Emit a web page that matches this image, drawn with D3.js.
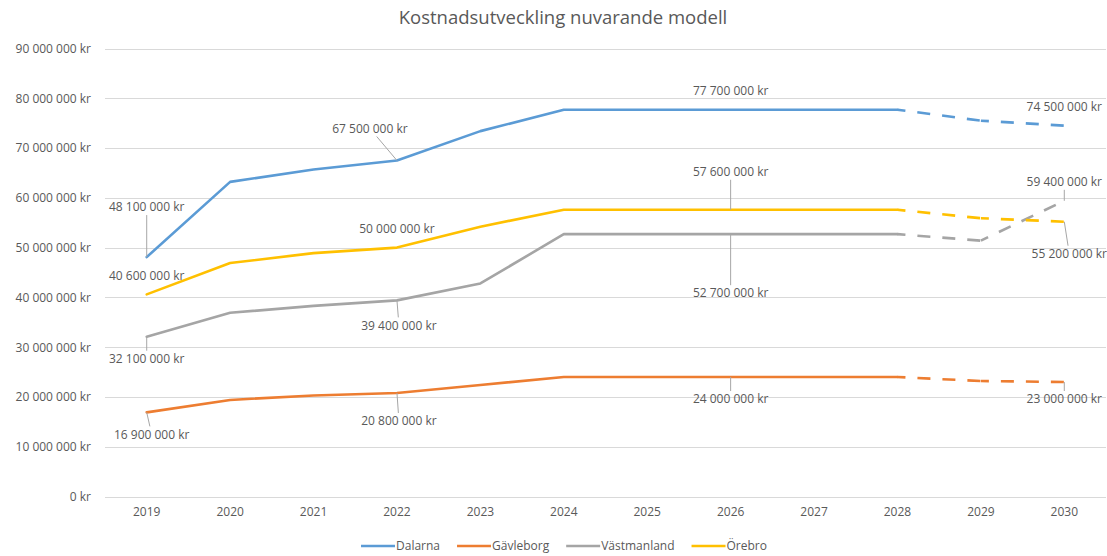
<!DOCTYPE html>
<html>
<head>
<meta charset="utf-8">
<script src="https://cdn.jsdelivr.net/npm/d3@7"></script>
<style>
  html, body { margin: 0; padding: 0; background: #fff; }
  svg { display: block; }
  text { font-family: "Open Sans", "Noto Sans", sans-serif; fill: #595959; }
</style>
</head>
<body>
<svg id="chart" width="1107" height="556"></svg>
<script>
// ---------- data ----------
const title = "Kostnadsutveckling nuvarande modell";
const years = [2019, 2020, 2021, 2022, 2023, 2024, 2025, 2026, 2027, 2028, 2029, 2030];
const seriesNames = ["Dalarna", "Gävleborg", "Västmanland", "Örebro"];
const dalarna     = [48100000, 63200000, 65700000, 67500000, 73400000, 77700000, 77700000, 77700000, 77700000, 77700000, 75500000, 74500000];
const gavleborg   = [16900000, 19400000, 20300000, 20800000, 22400000, 24000000, 24000000, 24000000, 24000000, 24000000, 23200000, 23000000];
const vastmanland = [32100000, 36900000, 38300000, 39400000, 42800000, 52700000, 52700000, 52700000, 52700000, 52700000, 51400000, 59400000];
const orebro      = [40600000, 46900000, 48900000, 50000000, 54200000, 57600000, 57600000, 57600000, 57600000, 57600000, 55900000, 55200000];
const yTicks = [0, 10000000, 20000000, 30000000, 40000000, 50000000, 60000000, 70000000, 80000000, 90000000];
const forecastFrom = 2028; // segments after this year are dashed

// ---------- layout / style ----------
const colors = { "Dalarna": "#5B9BD5", "Gävleborg": "#ED7D31", "Västmanland": "#A5A5A5", "Örebro": "#FFC000" };
const seriesValues = { "Dalarna": dalarna, "Gävleborg": gavleborg, "Västmanland": vastmanland, "Örebro": orebro };
const plot = { left: 105, right: 1106, top: 48.5, bottom: 496.5 };
// data label placement (offset of label centre from its point)
const labelLayout = [
  { s: "Dalarna", year: 2019, dx: 0, dy: -50, leader: true },
  { s: "Örebro", year: 2019, dx: 0, dy: -19, leader: false },
  { s: "Västmanland", year: 2019, dx: 0, dy: 22, leader: true },
  { s: "Gävleborg", year: 2019, dx: 5, dy: 22, leader: true },
  { s: "Dalarna", year: 2022, dx: -27, dy: -32, leader: true },
  { s: "Örebro", year: 2022, dx: 0, dy: -19, leader: false },
  { s: "Västmanland", year: 2022, dx: 2, dy: 25, leader: true },
  { s: "Gävleborg", year: 2022, dx: 2, dy: 28, leader: true },
  { s: "Dalarna", year: 2026, dx: 0, dy: -19, leader: false },
  { s: "Örebro", year: 2026, dx: 0, dy: -38, leader: true },
  { s: "Västmanland", year: 2026, dx: 0, dy: 59, leader: true },
  { s: "Gävleborg", year: 2026, dx: 0, dy: 22, leader: true },
  { s: "Dalarna", year: 2030, dx: 0, dy: -19, leader: false },
  { s: "Västmanland", year: 2030, dx: 0, dy: -19, leader: true },
  { s: "Örebro", year: 2030, dx: 5, dy: 32, leader: true },
  { s: "Gävleborg", year: 2030, dx: 0, dy: 17, leader: true }
];
const fontSize = "12px";

const svg = d3.select("#chart");
const locale = d3.formatLocale({ decimal: ",", thousands: " ", grouping: [3], currency: ["", " kr"] });
const fmt = v => locale.format(",d")(v) + " kr";

const x = d3.scaleBand().domain(years).range([plot.left, plot.right]);
const cx = yr => x(yr) + x.bandwidth() / 2;
const y = d3.scaleLinear().domain([0, 90000000]).range([plot.bottom, plot.top]);

// title
svg.append("text")
  .attr("x", 563).attr("y", 24)
  .attr("text-anchor", "middle")
  .style("font-size", "18.5px")
  .text(title);

// gridlines
svg.append("g").selectAll("line").data(yTicks).join("line")
  .attr("x1", plot.left).attr("x2", plot.right)
  .attr("y1", d => Math.round(y(d)) + 0.5).attr("y2", d => Math.round(y(d)) + 0.5)
  .attr("stroke", "#d9d9d9").attr("stroke-width", 1);

// y axis labels
const yAxis = d3.axisLeft(y).tickValues(yTicks).tickFormat(fmt).tickSize(0).tickPadding(0);
const yg = svg.append("g").attr("transform", `translate(91,0)`).call(yAxis);
yg.select(".domain").remove();
yg.selectAll("text").style("font-size", fontSize).attr("fill", "#595959").style("font-family", '"Open Sans", sans-serif');

// x axis labels
const xAxis = d3.axisBottom(x).tickSize(0).tickPadding(0);
const xg = svg.append("g").attr("transform", `translate(0,${plot.bottom + 11})`).call(xAxis);
xg.select(".domain").remove();
xg.selectAll("text").style("font-size", fontSize).attr("fill", "#595959").style("font-family", '"Open Sans", sans-serif');

// lines
const line = d3.line().x(d => cx(d.year)).y(d => y(d.v));
seriesNames.forEach(name => {
  const pts = years.map((yr, i) => ({ year: yr, v: seriesValues[name][i] }));
  const solid = pts.filter(p => p.year <= forecastFrom);
  svg.append("path")
    .attr("d", line(solid))
    .attr("fill", "none")
    .attr("stroke", colors[name])
    .attr("stroke-width", 2.6)
    .attr("stroke-linejoin", "round")
    .attr("stroke-linecap", "round");
  for (let i = 0; i < pts.length - 1; i++) {
    if (pts[i].year < forecastFrom) continue;
    svg.append("path")
      .attr("d", line([pts[i], pts[i + 1]]))
      .attr("fill", "none")
      .attr("stroke", colors[name])
      .attr("stroke-width", 2.6)
      .attr("stroke-dasharray", "13,12")
      .attr("stroke-dashoffset", 5);
  }
});

// data labels
const lg = svg.append("g");
labelLayout.forEach(l => {
  const i = years.indexOf(l.year);
  const v = seriesValues[l.s][i];
  const px = cx(l.year), py = y(v);
  const lx = px + l.dx, ly = py + l.dy;
  lg.append("text")
    .attr("x", lx).attr("y", ly).attr("dy", "0.35em")
    .attr("text-anchor", "middle")
    .style("font-size", fontSize)
    .text(fmt(v));
  if (l.leader) {
    const h = 8;
    const ddx = lx - px, ddy = ly - py;
    const tEdge = Math.abs(ddy) > 0 ? 1 - h / Math.abs(ddy) : 1;
    const ex = px + ddx * tEdge, ey = py + ddy * tEdge;
    lg.insert("line", ":first-child")
      .attr("x1", px).attr("y1", py).attr("x2", ex).attr("y2", ey)
      .attr("stroke", "#a6a6a6").attr("stroke-width", 1);
  }
});

// legend
const legend = svg.append("g");
const items = [];
seriesNames.forEach(name => {
  const g = legend.append("g");
  g.append("line").attr("x1", 0).attr("x2", 34).attr("y1", 0).attr("y2", 0)
    .attr("stroke", colors[name]).attr("stroke-width", 2.6);
  const t = g.append("text").attr("x", 35).attr("y", 0).attr("dy", "0.35em")
    .style("font-size", fontSize).text(name);
  const w = 35 + t.node().getComputedTextLength();
  items.push({ g, w });
});
const gap = 17;
const total = d3.sum(items, d => d.w) + gap * (items.length - 1);
let start = 564 - total / 2;
items.forEach(it => {
  it.g.attr("transform", `translate(${start},546)`);
  start += it.w + gap;
});
</script>
</body>
</html>
